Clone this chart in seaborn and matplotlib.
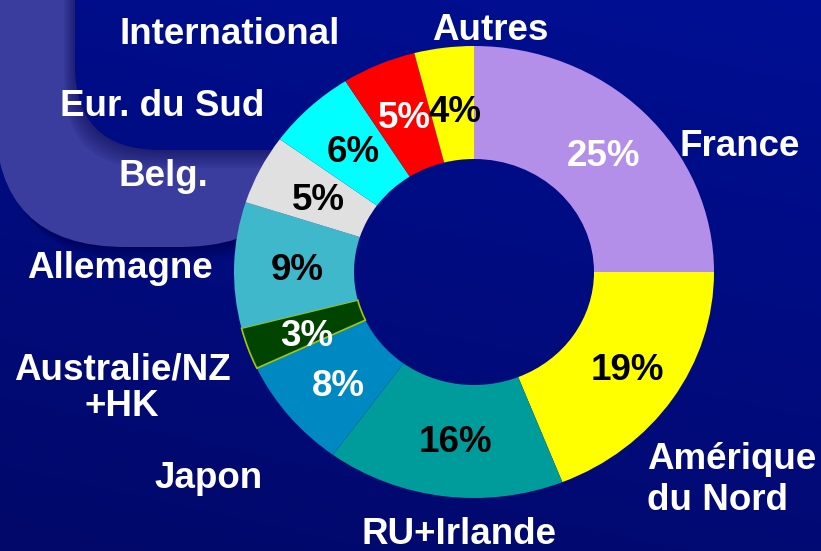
import numpy as np
import matplotlib.pyplot as plt
import seaborn as sns
from matplotlib.patches import FancyBboxPatch

regions = ['France', 'Amérique\ndu Nord', 'RU+Irlande', 'Japon', 'Australie/NZ\n+HK',
           'Allemagne', 'Belg.', 'Eur. du Sud', 'International', 'Autres']
shares = [25, 19, 16, 8, 3, 9, 5, 6, 5, 4]
slice_colors = ['#B38FEA', '#FFFF00', '#009B9B', '#0088C2', '#004400',
                '#40B8CC', '#E0E0E0', '#00FFFF', '#FF0000', '#FFFF00']
pct_colors = ['white', 'black', 'black', 'white', 'white',
              'black', 'black', 'black', 'white', 'black']

# label layout, in pixels from the top-left corner
name_pos = [(680, 146, 'left'), (647, 480, 'left'), (459, 535, 'center'),
            (209, 478, 'center'), (122, 388, 'center'), (120, 269, 'center'),
            (163, 177, 'center'), (162, 106, 'center'), (230, 34, 'center'),
            (490, 30, 'center')]
pct_pos = [(604, 156), (627, 371), (455, 443), (338, 386), (307, 336),
           (297, 271), (318, 200), (353, 153), (404, 119), (455, 113)]

sns.set_theme(style='white')
plt.rcParams['font.family'] = ['Liberation Sans', 'DejaVu Sans']

W, H = 821, 551
fig = plt.figure(figsize=(W / 100, H / 100), dpi=100)

# background
bg = fig.add_axes([0, 0, 1, 1], zorder=0)
bg.set_xlim(0, W)
bg.set_ylim(H, 0)
bg.axis('off')
yy, xx = np.mgrid[0:1:200j, 0:1:300j]
t = np.clip(0.75 * yy + 0.25 * (1 - xx), 0, 1)
top = np.array([0, 15, 148]) / 255
bot = np.array([2, 8, 105]) / 255
grad = top[None, None, :] * (1 - t[..., None]) + bot[None, None, :] * t[..., None]
bg.imshow(grad, extent=(0, W, H, 0), aspect='auto', zorder=0)

for i in range(8):
    sh = FancyBboxPatch((-5 + i * 1.5, -200 + i * 2), 315, 447, boxstyle='round,pad=0,rounding_size=130',
                        facecolor='#000030', edgecolor='none', alpha=0.06, zorder=1)
    bg.add_patch(sh)
light = FancyBboxPatch((-5, -200), 315, 447, boxstyle='round,pad=0,rounding_size=130',
                       facecolor='#3A3C9E', edgecolor='none', zorder=2)
bg.add_patch(light)
for i in range(8):
    sh = FancyBboxPatch((75 - i * 1.5, -200), 900, 350 + i * 2.5, boxstyle='round,pad=0,rounding_size=85',
                        facecolor='#000040', edgecolor='none', alpha=0.07, zorder=3)
    bg.add_patch(sh)
    sh.set_clip_path(light)
dark = FancyBboxPatch((75, -200), 900, 350, boxstyle='round,pad=0,rounding_size=85',
                      facecolor='none', edgecolor='none', zorder=4)
bg.add_patch(dark)
im = bg.imshow(grad, extent=(0, W, H, 0), aspect='auto', zorder=4)
im.set_clip_path(dark)
bg.set_xlim(0, W)
bg.set_ylim(H, 0)

# donut
ax = fig.add_axes([0, 0, 1, 1], zorder=1)
ax.set_facecolor('none')
cx, cy, rx, ry = 474, 272, 240, 226
wedges, _ = ax.pie(shares, colors=slice_colors, startangle=90, counterclock=False,
                   wedgeprops=dict(width=0.5, linewidth=0))
wedges[4].set_edgecolor('#A8C800')
wedges[4].set_linewidth(1.2)
ax.set_aspect('auto')
ax.set_xlim(-cx / rx, (W - cx) / rx)
ax.set_ylim(-(H - cy) / ry, cy / ry)
ax.axis('off')

# texts
tx = fig.add_axes([0, 0, 1, 1], zorder=2)
tx.set_facecolor('none')
tx.set_xlim(0, W)
tx.set_ylim(H, 0)
tx.axis('off')
for name, (x, y, ha) in zip(regions, name_pos):
    ls = 1.05 if 'HK' in name else 1.2
    tx.text(x, y, name, ha=ha, va='center', color='white', fontsize=26.5,
            fontweight='bold', linespacing=ls, multialignment=ha)
for v, (x, y), c in zip(shares, pct_pos, pct_colors):
    tx.text(x, y, f'{v}%', ha='center', va='center', color=c, fontsize=26.5, fontweight='bold')

fig.savefig('out.png', dpi=100)
